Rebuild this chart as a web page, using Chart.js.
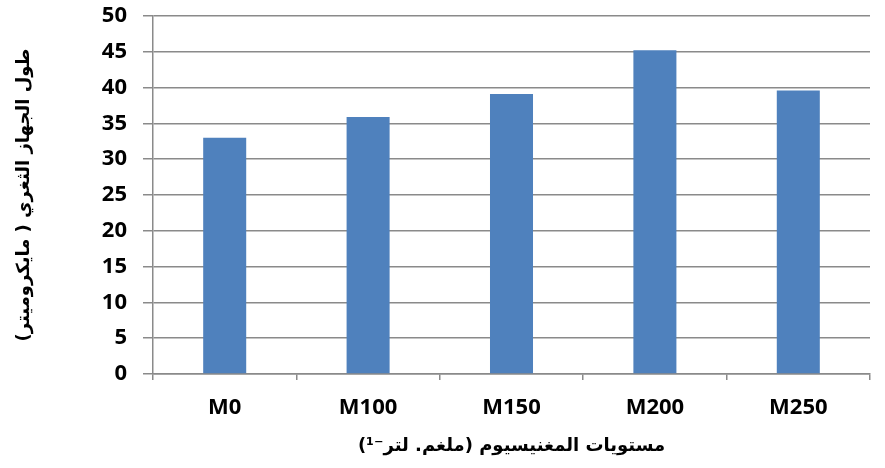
<!DOCTYPE html>
<html>
<head>
<meta charset="utf-8">
<script src="https://cdn.jsdelivr.net/npm/chart.js@4.4.0/dist/chart.umd.min.js"></script>
<style>
  html, body { margin: 0; padding: 0; background: #fff; }
  #wrap { width: 885px; height: 468px; }
</style>
</head>
<body>
<div id="wrap"><canvas id="stomataChart" width="885" height="468"></canvas></div>
<script>
// categories and values
let levels = ['M0', 'M100', 'M150', 'M200', 'M250'];
let stomataLength = [33.0, 35.9, 39.1, 45.2, 39.6];
let yTicks = [0, 5, 10, 15, 20, 25, 30, 35, 40, 45, 50];

let xTitle = 'مستويات المغنيسيوم (ملغم. لتر⁻¹)';
let yTitle = 'طول الجهاز الثغري ( مايكروميتر)';

let gridColor = '#8a8a8a';
let tickFont = { family: 'Open Sans', size: 22, weight: 'bold' };
let titleFont = { family: 'DejaVu Sans', size: 18, weight: 'bold' };

let ctx = document.getElementById('stomataChart');

var myChart = new Chart(ctx, {
    type: 'bar',
    data: {
        labels: levels,
        datasets: [{
            data: stomataLength,
            backgroundColor: '#4F81BD',
            borderWidth: 0,
            barPercentage: 0.3,
            categoryPercentage: 1.0
        }]
    },
    options: {
        responsive: false,
        animation: false,
        layout: { padding: { top: 16, right: 15, left: 14, bottom: 11 } },
        plugins: {
            legend: { display: false },
            tooltip: { enabled: false }
        },
        scales: {
            x: {
                afterFit: function (axis) {
                    axis.height = 83;
                    axis.paddingLeft = 0;
                    axis.paddingRight = 0;
                },
                grid: {
                    offset: true,
                    drawOnChartArea: false,
                    drawTicks: true,
                    tickLength: 6,
                    color: gridColor,
                    lineWidth: 1.5
                },
                border: { color: gridColor, width: 1.5 },
                ticks: { color: '#000', font: tickFont, padding: 15 },
                title: {
                    display: true,
                    text: xTitle,
                    color: '#000',
                    font: titleFont,
                    padding: { top: 14, bottom: 0 }
                }
            },
            y: {
                min: 0,
                max: 50,
                afterBuildTicks: function (axis) {
                    axis.ticks = yTicks.map(v => ({ value: v }));
                },
                afterFit: function (axis) {
                    axis.width = 139;
                    axis.paddingTop = 0;
                    axis.paddingBottom = 0;
                },
                grid: {
                    color: gridColor,
                    lineWidth: 1.5,
                    tickLength: 10
                },
                border: { color: gridColor, width: 1.5 },
                ticks: { color: '#000', font: tickFont, padding: 16 },
                title: {
                    display: true,
                    text: yTitle,
                    color: '#000',
                    font: titleFont,
                    padding: { top: 0, bottom: 66 }
                }
            }
        }
    }
});
</script>
</body>
</html>
